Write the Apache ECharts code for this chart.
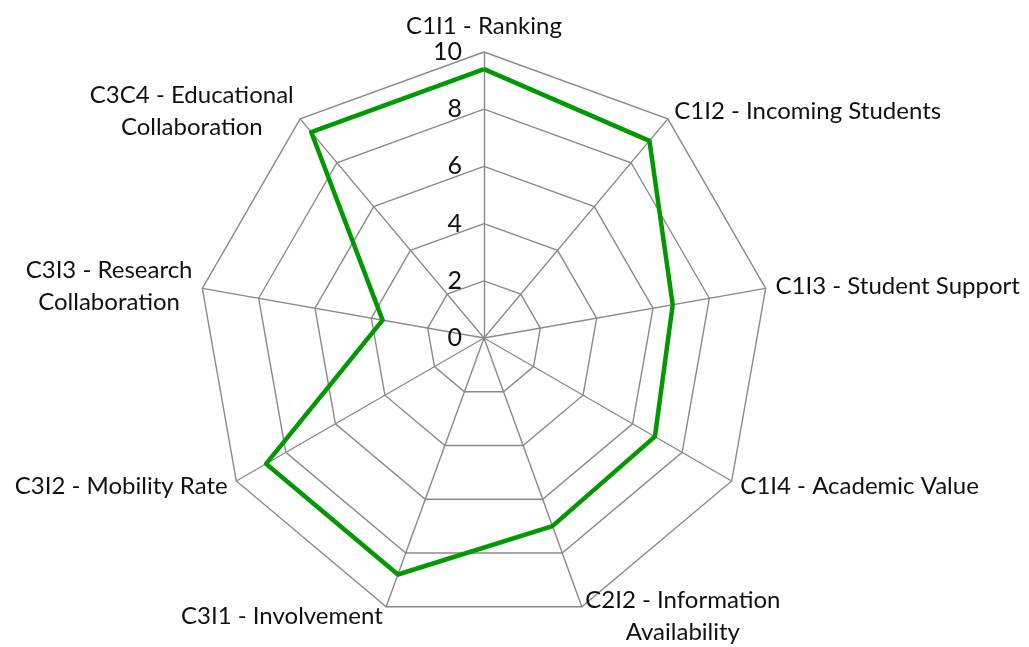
<!DOCTYPE html>
<html>
<head>
<meta charset="utf-8">
<script src="https://cdn.jsdelivr.net/npm/echarts@6/dist/echarts.min.js"></script>
<style>
  html, body { margin: 0; padding: 0; background: #fff; }
  #chart { width: 1029px; height: 647px; }
</style>
</head>
<body>
<div id="chart"></div>
<script>
// axis names, clockwise from the top
const indicatorNames = [
  'C1I1 - Ranking',
  'C1I2 - Incoming Students',
  'C1I3 - Student Support',
  'C1I4 - Academic Value',
  'C2I2 - Information\nAvailability',
  'C3I1 - Involvement',
  'C3I2 - Mobility Rate',
  'C3I3 - Research\nCollaboration',
  'C3C4 - Educational\nCollaboration'
]
const scores = [9.4, 9.0, 6.7, 6.9, 7.0, 8.8, 8.8, 3.6, 9.4]
const axisMax = 10
const ringCount = 5

const GRID = '#8a8a8a'
const GREEN = '#009a00'
const FONT = 'Lato, "Open Sans", sans-serif'

// echarts radar runs counter-clockwise, so keep the first axis and flip the rest
const clockwise = arr => [arr[0]].concat(arr.slice(1).reverse())

const chart = echarts.init(document.getElementById('chart'))
chart.setOption({
  animation: false,
  radar: {
    center: [484, 338],
    radius: 286,
    startAngle: 90,
    splitNumber: ringCount,
    shape: 'polygon',
    indicator: clockwise(indicatorNames).map((name, i) => ({
      name: name,
      min: 0,
      max: axisMax,
      axisLabel: { show: i === 0 }
    })),
    axisName: {
      color: '#111',
      fontSize: 24,
      fontFamily: FONT,
      formatter: name => name.split('\n').map(s => '{a|' + s + '}').join('\n'),
      rich: {
        a: { align: 'center', fontSize: 24, fontFamily: FONT, color: '#111', lineHeight: 32 }
      }
    },
    nameGap: 10,
    axisLine: { lineStyle: { color: GRID, width: 1.4 } },
    splitLine: { lineStyle: { color: GRID, width: 1.4 } },
    splitArea: { show: false },
    axisTick: { show: false },
    axisLabel: {
      show: false,
      color: '#111',
      fontSize: 25,
      fontFamily: FONT,
      margin: 22
    }
  },
  series: [{
    type: 'radar',
    symbol: 'none',
    lineStyle: { color: GREEN, width: 4.5 },
    data: [{ value: clockwise(scores), name: 'Score' }]
  }]
})
</script>
</body>
</html>
